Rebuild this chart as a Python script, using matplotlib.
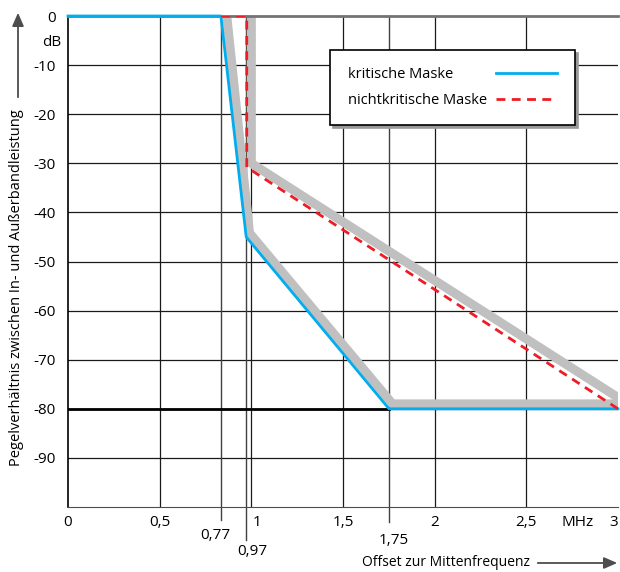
import matplotlib.pyplot as plt
import matplotlib.transforms as mtransforms
from matplotlib.patches import FancyArrowPatch

plt.rcParams['font.family'] = ['Open Sans', 'DejaVu Sans']

# Masken (x in MHz, y in dB) - Positionen
krit_x = [0, 0.834, 0.972, 1.751, 3]
krit_y = [0, 0, -45, -80, -80]
nkrit_x = [0.834, 0.975, 0.975, 3]
nkrit_y = [0, 0, -30.8, -80]
grau1_x = [0.866, 0.99, 1.77, 3]
grau1_y = [0, -44.2, -79.0, -79.0]
grau2_x = [1.0, 1.0, 3]
grau2_y = [0, -30, -77.7]
grenze_x = [0, 1.751]
grenze_y = [-80, -80]

xticks = [0, 0.5, 1, 1.5, 2, 2.5, 3]
xticklabels = ['0', '0,5', '1', '1,5', '2', '2,5', '3']
yticks = [0, -10, -20, -30, -40, -50, -60, -70, -80, -90]
# Zusatzmarken: Position, Beschriftung, Linienende, Textlage
extra_x = [0.834, 0.972, 1.751]
extra_lab = ['0,77', '0,97', '1,75']
extra_end = [-102.7, -106.8, -103.1]
extra_txt = [(-0.03, -105.8), (0.032, -109.0), (0.027, -106.9)]

fig = plt.figure(figsize=(6.2, 5.72), dpi=100)
ax = fig.add_axes([68 / 620, 65 / 572, 550 / 620, 491 / 572])
ax.set_xlim(0, 3)
ax.set_ylim(-100, 0)

# Gitter
for y in yticks[1:]:
    ax.axhline(y, color='0.1', lw=0.9, zorder=1)
for x in [0.5, 1, 1.5, 2, 2.5]:
    ax.axvline(x, color='0.1', lw=0.9, zorder=1)
for x, end in zip(extra_x, extra_end):
    ax.plot([x, x], [0, end], color='0.25', lw=1.0, clip_on=False, zorder=1)

ax.plot(grau1_x, grau1_y, color='#c0c0c0', lw=6.5, solid_joinstyle='miter', zorder=2)
ax.plot(grau2_x, grau2_y, color='#c0c0c0', lw=6.5, solid_joinstyle='miter', zorder=2)
ax.plot(grenze_x, grenze_y, color='black', lw=2, zorder=3)
ax.plot(krit_x, krit_y, color='#00aeef', lw=2, label='kritische Maske', zorder=4, clip_on=False)
ax.plot(nkrit_x, nkrit_y, color='#ee1c25', lw=2, ls=(0, (3.2, 2.3)), label='nichtkritische Maske', zorder=5)

ax.spines['right'].set_visible(False)
ax.spines['top'].set_color('0.45')
ax.spines['top'].set_linewidth(2)
ax.spines['left'].set_linewidth(1.2)
ax.spines['bottom'].set_color('0.3')

ax.set_xticks(xticks)
ax.set_xticklabels(xticklabels)
ax.set_yticks(yticks)
ax.set_yticklabels([str(v) for v in yticks])
ax.tick_params(length=0, labelsize=11)
ax.tick_params(axis='x', pad=6)
ax.tick_params(axis='y', pad=9)

xlabs = ax.get_xticklabels()
xlabs[2].set_transform(xlabs[2].get_transform() +
                       mtransforms.ScaledTranslation(4 / 72, 0, fig.dpi_scale_trans))
xlabs[-1].set_horizontalalignment('right')

for x, lab, (dx, ty) in zip(extra_x, extra_lab, extra_txt):
    ax.text(x + dx, ty, lab, ha='center', va='center', fontsize=11, clip_on=False)
ax.text(2.78, -103.2, 'MHz', ha='center', va='center', fontsize=11, clip_on=False)
ax.annotate('dB', xy=(0, -5.3), xytext=(-5, 0), textcoords='offset points',
            ha='right', va='center', fontsize=11, annotation_clip=False)

leg = ax.legend(loc='upper left', bbox_to_anchor=(330 / 620, 1 - 50 / 572),
                bbox_transform=fig.transFigure, borderaxespad=0, markerfirst=False,
                fontsize=10.5, handlelength=4.2, handletextpad=0.65, borderpad=1.2,
                labelspacing=0.7, fancybox=False, framealpha=1,
                shadow={'color': '0.6', 'alpha': 1})
leg.get_frame().set_edgecolor('black')
leg.get_frame().set_linewidth(1.2)

# Texte links bündig, Linien rechts bündig
fig.canvas.draw()
renderer = fig.canvas.get_renderer()
widths = [t.get_window_extent(renderer).width * 72 / fig.dpi for t in leg.get_texts()]
wmax = max(widths)
for col in leg._legend_handle_box.get_children():
    col.align = 'left'
    for row, w in zip(col.get_children(), widths):
        row.sep = row.sep + (wmax - w)

# Achsenbeschriftungen mit Pfeilen
fig.text(17 / 620, 1 - 288 / 572, 'Pegelverhältnis zwischen In- und Außerbandleistung',
         rotation=90, ha='center', va='center', fontsize=10.5)
fig.add_artist(FancyArrowPatch(
    (18 / 620, 1 - 100 / 572), (18 / 620, 1 - 10 / 572), transform=fig.transFigure,
    arrowstyle='-|>,head_length=8,head_width=3.5', color='0.3', lw=1.3))
fig.text(362 / 620, 1 - 562 / 572, 'Offset zur Mittenfrequenz',
         ha='left', va='center', fontsize=10)
fig.add_artist(FancyArrowPatch(
    (535 / 620, 1 - 563 / 572), (620 / 620, 1 - 563 / 572), transform=fig.transFigure,
    arrowstyle='-|>,head_length=8,head_width=3.5', color='0.3', lw=1.3))

fig.savefig('out.png', dpi=100)
